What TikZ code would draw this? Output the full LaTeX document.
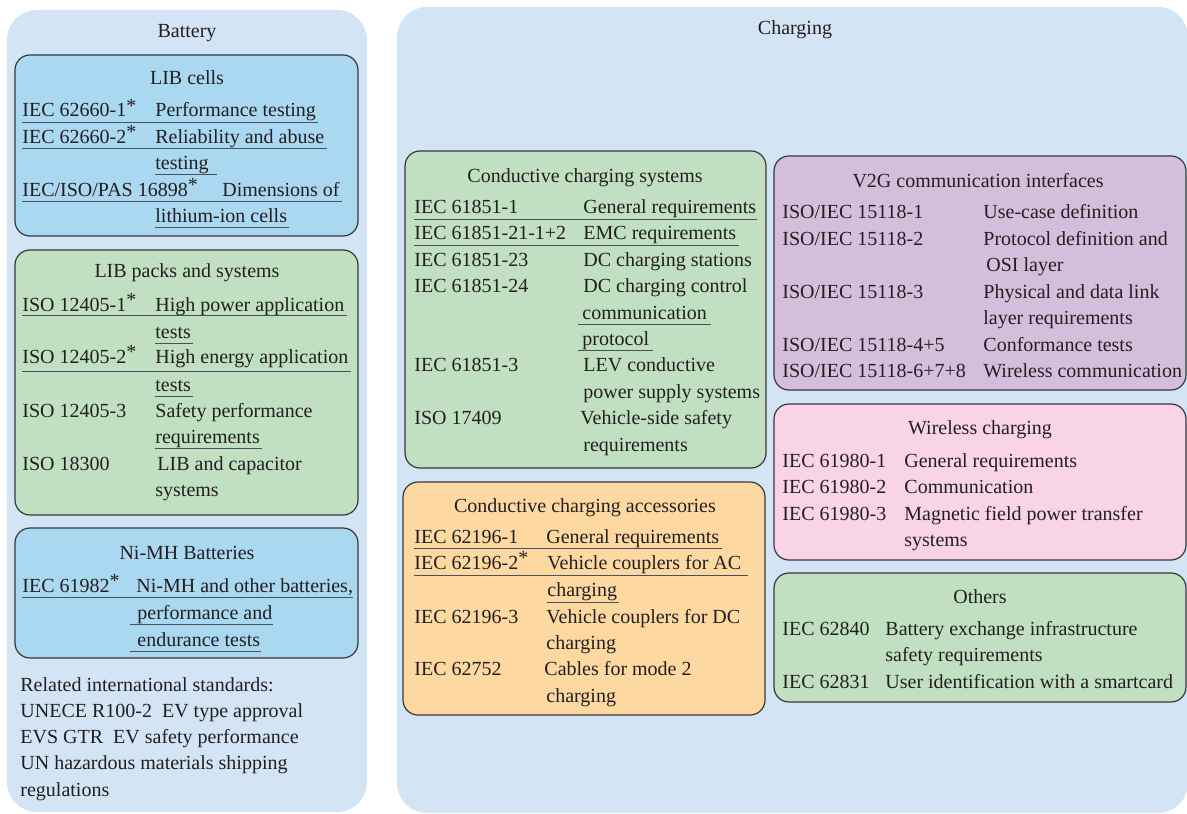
\documentclass[tikz,border=0pt]{standalone}
\usepackage{fontspec}
\setmainfont{Liberation Serif}
\usetikzlibrary{positioning}
\definecolor{bgblue}{RGB}{211,228,244}
\definecolor{cellblue}{RGB}{170,216,241}
\definecolor{packgreen}{RGB}{193,224,193}
\definecolor{accorange}{RGB}{253,217,161}
\definecolor{vtgpurple}{RGB}{213,190,220}
\definecolor{wlpink}{RGB}{248,212,230}
\definecolor{edgegray}{RGB}{55,55,55}
\definecolor{inkgray}{RGB}{35,31,32}
\definecolor{ulgray}{RGB}{70,82,98}
\tikzset{group/.style = {fill=bgblue, rounded corners=15pt}}
\tikzset{panel/.style = {draw=edgegray, line width=0.6pt, rounded corners=7.5pt}}
\tikzset{txt/.style = {anchor=base west, inner sep=0, text=inkgray}}
\tikzset{ttl/.style = {anchor=base, inner sep=0, text=inkgray}}
\tikzset{uline/.style = {draw=ulgray, line width=0.5pt}}
\newcommand{\st}{\raisebox{0.45ex}{*}}

\begin{document}
\begin{tikzpicture}[x=0.5pt, y=-0.5pt, font=\fontsize{10}{12}\selectfont]
      \useasboundingbox (0,0) rectangle (1187,813);
      \fill [group] (7,10) rectangle (367,812);
      \fill [group] (397,7) rectangle (1188,813);
      \node [ttl] (battery) at (187,38) {Battery};
      \node [ttl] (charging) at (795,35) {Charging};

      \filldraw [panel, fill=cellblue] (15,55) rectangle (358,236);
      \node [ttl] (cells) at (187,84) {LIB cells};
      \node [txt] (lc1) at (22,117) {IEC 62660-1\st};
      \node [txt] (lc1d) at (155,117) {Performance testing};
      \node [txt] (lc2) at (22,143) {IEC 62660-2\st};
      \node [txt] (lc2d) at (155,143) {Reliability and abuse};
      \node [txt] (lc2e) at (155,169) {testing};
      \node [txt] (lc3) at (22,196) {IEC/ISO/PAS 16898\st};
      \node [txt] (lc3d) at (222,196) {Dimensions of};
      \node [txt] (lc3e) at (155,222) {lithium-ion cells};
      \draw [uline] ([yshift=-2.5pt]lc1.base west) -- ([xshift=1pt, yshift=-2.5pt]lc1d.base east);
      \draw [uline] ([yshift=-2.5pt]lc2.base west) -- ([xshift=1pt, yshift=-2.5pt]lc2d.base east);
      \draw [uline] ([yshift=-2.5pt]lc2e.base west) -- ([xshift=4pt, yshift=-2.5pt]lc2e.base east);
      \draw [uline] ([yshift=-2.5pt]lc3.base west) -- ([xshift=1pt, yshift=-2.5pt]lc3d.base east);
      \draw [uline] ([yshift=-2.5pt]lc3e.base west) -- ([xshift=1pt, yshift=-2.5pt]lc3e.base east);

      \filldraw [panel, fill=packgreen] (15,250) rectangle (358,515);
      \node [ttl] (packs) at (187,277) {LIB packs and systems};
      \node [txt] (lp1) at (22,311) {ISO 12405-1\st};
      \node [txt] (lp1d) at (155,311) {High power application};
      \node [txt] (lp1e) at (155,338) {tests};
      \node [txt] (lp2) at (22,363) {ISO 12405-2\st};
      \node [txt] (lp2d) at (155,363) {High energy application};
      \node [txt] (lp2e) at (155,391) {tests};
      \node [txt] (lp3) at (22,417) {ISO 12405-3};
      \node [txt] (lp3d) at (155,417) {Safety performance};
      \node [txt] (lp3e) at (155,443) {requirements};
      \node [txt] (lp4) at (22,470) {ISO 18300};
      \node [txt] (lp4d) at (157,470) {LIB and capacitor};
      \node [txt] (lp4e) at (155,496) {systems};
      \draw [uline] ([yshift=-2pt]lp1.base west) -- ([xshift=1pt, yshift=-2pt]lp1d.base east);
      \draw [uline] ([yshift=-2.5pt]lp1e.base west) -- ([xshift=1pt, yshift=-2.5pt]lp1e.base east);
      \draw [uline] ([yshift=-4pt]lp2.base west) -- ([xshift=1pt, yshift=-4pt]lp2d.base east);
      \draw [uline] ([yshift=-2.5pt]lp2e.base west) -- ([xshift=1pt, yshift=-2.5pt]lp2e.base east);
      \draw [uline] ([yshift=-2.5pt]lp3e.base west) -- ([xshift=1pt, yshift=-2.5pt]lp3e.base east);

      \filldraw [panel, fill=cellblue] (15,528) rectangle (358,658);
      \node [ttl] (nimh) at (187,559) {Ni-MH Batteries};
      \node [txt] (nm1) at (22,592) {IEC 61982\st};
      \node [txt] (nm1d) at (136,592) {Ni-MH and other batteries,};
      \node [txt] (nm1e) at (137,619) {performance and};
      \node [txt] (nm1f) at (137,646) {endurance tests};
      \draw [uline] ([yshift=-2.5pt]nm1.base west) -- ([yshift=-2.5pt]nm1d.base east);
      \draw [uline] ([xshift=-3.5pt, yshift=-2.5pt]nm1e.base west) -- ([yshift=-2.5pt]nm1e.base east);
      \draw [uline] ([xshift=-3.5pt, yshift=-2.5pt]nm1f.base west) -- ([yshift=-2.5pt]nm1f.base east);

      \node [txt] (rel1) at (20,691) {Related international standards:};
      \node [txt] (rel2) at (20,717) {UNECE R100-2\ \ EV type approval};
      \node [txt] (rel3) at (20,743) {EVS GTR\ \ EV safety performance};
      \node [txt] (rel4) at (20,769) {UN hazardous materials shipping};
      \node [txt] (rel5) at (20,796) {regulations};

      \filldraw [panel, fill=packgreen] (405,151) rectangle (766,468);
      \node [ttl] (css) at (585,182) {Conductive charging systems};
      \node [txt] (cs1) at (414,213) {IEC 61851-1};
      \node [txt] (cs1d) at (583,213) {General requirements};
      \node [txt] (cs2) at (414,239) {IEC 61851-21-1+2};
      \node [txt] (cs2d) at (583,239) {EMC requirements};
      \node [txt] (cs3) at (414,266) {IEC 61851-23};
      \node [txt] (cs3d) at (583,266) {DC charging stations};
      \node [txt] (cs4) at (414,292) {IEC 61851-24};
      \node [txt] (cs4d) at (583,292) {DC charging control};
      \node [txt] (cs4e) at (582,319) {communication};
      \node [txt] (cs4f) at (582,345) {protocol};
      \node [txt] (cs5) at (414,371) {IEC 61851-3};
      \node [txt] (cs5d) at (583,371) {LEV conductive};
      \node [txt] (cs5e) at (583,398) {power supply systems};
      \node [txt] (cs6) at (414,424) {ISO 17409};
      \node [txt] (cs6d) at (580,424) {Vehicle-side safety};
      \node [txt] (cs6e) at (583,451) {requirements};
      \draw [uline] ([yshift=-3pt]cs1.base west) -- ([yshift=-3pt]cs1d.base east);
      \draw [uline] ([yshift=-3pt]cs2.base west) -- ([xshift=1pt, yshift=-3pt]cs2d.base east);
      \draw [uline] ([xshift=-2pt, yshift=-2.5pt]cs4e.base west) -- ([xshift=2pt, yshift=-2.5pt]cs4e.base east);
      \draw [uline] ([xshift=-2pt, yshift=-2.5pt]cs4f.base west) -- ([xshift=2pt, yshift=-2.5pt]cs4f.base east);

      \filldraw [panel, fill=accorange] (403,482) rectangle (765,715);
      \node [ttl] (csa) at (585,512) {Conductive charging accessories};
      \node [txt] (ca1) at (414,543) {IEC 62196-1};
      \node [txt] (ca1d) at (546,543) {General requirements};
      \node [txt] (ca2) at (414,569) {IEC 62196-2\st};
      \node [txt] (ca2d) at (547,569) {Vehicle couplers for AC};
      \node [txt] (ca2e) at (547,596) {charging};
      \node [txt] (ca3) at (414,623) {IEC 62196-3};
      \node [txt] (ca3d) at (546,623) {Vehicle couplers for DC};
      \node [txt] (ca3e) at (546,649) {charging};
      \node [txt] (ca4) at (414,675) {IEC 62752};
      \node [txt] (ca4d) at (544,675) {Cables for mode 2};
      \node [txt] (ca4e) at (546,702) {charging};
      \draw [uline] ([yshift=-2.5pt]ca1.base west) -- ([xshift=1pt, yshift=-2.5pt]ca1d.base east);
      \draw [uline] ([yshift=-3pt]ca2.base west) -- ([xshift=3pt, yshift=-3pt]ca2d.base east);
      \draw [uline] ([yshift=-3pt]ca2e.base west) -- ([xshift=1pt, yshift=-3pt]ca2e.base east);

      \filldraw [panel, fill=vtgpurple] (774,156) rectangle (1186,390);
      \node [ttl] (v2g) at (978,187) {V2G communication interfaces};
      \node [txt] (vg1) at (782,218) {ISO/IEC 15118-1};
      \node [txt] (vg1d) at (983,218) {Use-case definition};
      \node [txt] (vg2) at (782,245) {ISO/IEC 15118-2};
      \node [txt] (vg2d) at (983,245) {Protocol definition and};
      \node [txt] (vg2e) at (986,271) {OSI layer};
      \node [txt] (vg3) at (782,298) {ISO/IEC 15118-3};
      \node [txt] (vg3d) at (983,298) {Physical and data link};
      \node [txt] (vg3e) at (983,324) {layer requirements};
      \node [txt] (vg4) at (782,351) {ISO/IEC 15118-4+5};
      \node [txt] (vg4d) at (983,351) {Conformance tests};
      \node [txt] (vg5) at (782,377) {ISO/IEC 15118-6+7+8};
      \node [txt] (vg5d) at (983,377) {Wireless communication};

      \filldraw [panel, fill=wlpink] (774,404) rectangle (1186,560);
      \node [ttl] (wlc) at (980,434) {Wireless charging};
      \node [txt] (wl1) at (782,467) {IEC 61980-1};
      \node [txt] (wl1d) at (904,467) {General requirements};
      \node [txt] (wl2) at (782,493) {IEC 61980-2};
      \node [txt] (wl2d) at (904,493) {Communication};
      \node [txt] (wl3) at (782,520) {IEC 61980-3};
      \node [txt] (wl3d) at (904,520) {Magnetic field power transfer};
      \node [txt] (wl3e) at (904,546) {systems};

      \filldraw [panel, fill=packgreen] (774,573) rectangle (1186,702);
      \node [ttl] (others) at (980,603) {Others};
      \node [txt] (ot1) at (782,635) {IEC 62840};
      \node [txt] (ot1d) at (885,635) {Battery exchange infrastructure};
      \node [txt] (ot1e) at (885,661) {safety requirements};
      \node [txt] (ot2) at (782,688) {IEC 62831};
      \node [txt] (ot2d) at (885,688) {User identification with a smartcard};
    \end{tikzpicture}
\end{document}
